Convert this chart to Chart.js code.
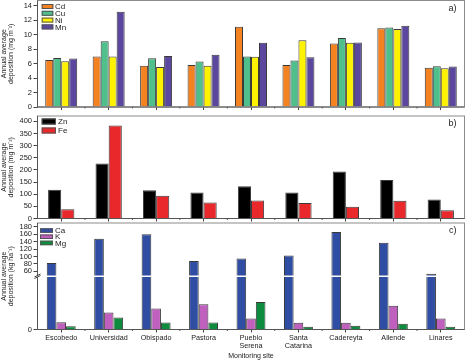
<!DOCTYPE html>
<html>
<head>
<meta charset="utf-8">
<script src="https://cdn.jsdelivr.net/npm/chart.js@4.4.0/dist/chart.umd.min.js"></script>
<style>
  html, body { margin: 0; padding: 0; background: #fff; }
  #wrap { position: relative; width: 466px; height: 361px; }
  #wrap canvas { position: absolute; left: 0; top: 0; }
</style>
</head>
<body>
<div id="wrap">
  <canvas id="chartA" width="466" height="361"></canvas>
  <canvas id="chartB" width="466" height="361"></canvas>
  <canvas id="chartC" width="466" height="361"></canvas>
</div>
<script>
// Monitoring sites (x axis)
const sites = ['Escobedo', 'Universidad', 'Obispado', 'Pastora', ['Pueblo', 'Serena'],
               ['Santa', 'Catarina'], 'Cadereyta', 'Allende', 'Linares'];

// Panel a) mg m-2
const cd = [6.5, 7.0, 5.7, 5.8, 11.1, 5.8, 8.8, 10.9, 5.45];
const cu = [6.8, 9.1, 6.75, 6.3, 7.0, 6.45, 9.55, 11.0, 5.65];
const ni = [6.35, 7.0, 5.55, 5.7, 6.95, 9.25, 8.9, 10.8, 5.35];
const mn = [6.7, 13.2, 7.05, 7.25, 8.9, 6.9, 8.95, 11.25, 5.6];

// Panel b) mg m-2
const zn = [118, 226, 116, 107, 133, 107, 193, 159, 78];
const fe = [38, 383, 94, 66, 74, 64, 48, 73, 34];

// Panel c) kg ha-1 (broken axis)
const ca = [82.5, 147.5, 160, 88, 95, 103, 165.5, 137, 54];
const k  = [2.8, 6.5, 8.0, 9.6, 4.2, 2.55, 2.55, 9.0, 4.2];
const mg = [1.25, 4.6, 2.7, 2.7, 10.5, 1.0, 1.4, 2.2, 1.0];

// tick labels
const ticksA = [0, 2, 4, 6, 8, 10, 12, 14];
const ticksB = [0, 50, 100, 150, 200, 250, 300, 350, 400];
const ticksC = [0, 60, 80, 100, 120, 140, 160, 180];

// broken axis ranges for panel c
const LOW_MAX = 20;
const HIGH_MIN = 49;
const HIGH_MAX = 190;

const FONT = "'Liberation Sans', Arial, sans-serif";
const TXT = '#222';

// map a value on the broken axis: lower half 0..LOW_MAX, upper half HIGH_MIN..HIGH_MAX
function brokenPixel(s, v) {
    const h = s.bottom - s.top;
    const lowFrac = 0.493, highFrac = 0.507;
    let f;
    if (v <= LOW_MAX) f = v / LOW_MAX * lowFrac;
    else if (v < HIGH_MIN) f = lowFrac + (highFrac - lowFrac) * (v - LOW_MAX) / (HIGH_MIN - LOW_MAX);
    else f = highFrac + (1 - highFrac) * (v - HIGH_MIN) / (HIGH_MAX - HIGH_MIN);
    return s.bottom - f * h;
}

function decoPlugin(cfg) {
    return {
        id: 'deco',
        afterDraw(chart) {
            const { ctx, chartArea: a } = chart;
            const xs = chart.scales.x, ys = chart.scales.y;
            ctx.save();

            // white gap through the bars at the axis break
            let gTop, gBot;
            if (cfg.broken) {
                gTop = ys.getPixelForValue(HIGH_MIN);
                gBot = ys.getPixelForValue(LOW_MAX);
                ctx.fillStyle = '#fff';
                ctx.fillRect(a.left + 1, gTop, a.right - a.left - 2, gBot - gTop);
            }

            // frame
            ctx.strokeStyle = '#8c8c8c';
            ctx.lineWidth = 1;
            ctx.strokeRect(a.left, a.top, a.right - a.left, a.bottom - a.top);
            ctx.strokeStyle = '#555';
            ctx.beginPath();
            ctx.moveTo(a.left, a.top);
            ctx.lineTo(a.left, a.bottom);
            ctx.lineTo(a.right, a.bottom);
            // minor ticks between sites
            for (let i = 1; i < chart.data.labels.length; i++) {
                const px = (xs.getPixelForValue(i - 1) + xs.getPixelForValue(i)) / 2;
                ctx.moveTo(px, a.bottom);
                ctx.lineTo(px, a.bottom + 1.5);
            }
            ctx.stroke();

            // break marks on the left axis
            if (cfg.broken) {
                ctx.fillStyle = '#fff';
                ctx.fillRect(a.left - 4, gTop, 8, gBot - gTop);
                ctx.strokeStyle = '#444';
                ctx.beginPath();
                ctx.moveTo(a.left - 3, gTop + 1.5); ctx.lineTo(a.left + 3, gTop - 1.5);
                ctx.moveTo(a.left - 3, gBot + 1.5); ctx.lineTo(a.left + 3, gBot - 1.5);
                ctx.stroke();
            }

            // legend
            const L = cfg.legend;
            ctx.font = '8px ' + FONT;
            ctx.textAlign = 'left';
            ctx.textBaseline = 'middle';
            chart.data.datasets.forEach((ds, i) => {
                const y = L.y0 + i * L.dy;
                ctx.fillStyle = ds.backgroundColor;
                ctx.fillRect(L.x, y, L.w, L.h);
                ctx.strokeStyle = '#555';
                ctx.strokeRect(L.x + 0.5, y + 0.5, L.w - 1, L.h - 1);
                ctx.fillStyle = TXT;
                ctx.fillText(ds.label, L.tx, y + L.h / 2 + 0.5);
            });

            // panel letter
            ctx.font = '9px ' + FONT;
            ctx.textAlign = 'right';
            ctx.fillText(cfg.letter, a.right - 8, a.top + 8);

            // y title
            ctx.font = '7px ' + FONT;
            ctx.textAlign = 'center';
            const yc = (a.top + a.bottom) / 2;
            cfg.title.forEach((t, i) => {
                ctx.save();
                ctx.translate(cfg.titleX[i], yc);
                ctx.rotate(-Math.PI / 2);
                ctx.fillText(t, 0, 0);
                ctx.restore();
            });

            // x title
            if (cfg.xTitle) {
                ctx.fillText(cfg.xTitle, (a.left + a.right) / 2, 356.5);
            }
            ctx.restore();
        }
    };
}

function bars(label, data, color, pct) {
    return {
        label, data,
        backgroundColor: color,
        borderColor: '#3a3a3a',
        borderWidth: 1,
        categoryPercentage: pct,
        barPercentage: 1
    };
}

function makeChart(id, datasets, p) {
    const yAxis = {
        type: 'linear',
        bounds: 'data',
        min: 0,
        max: p.max,
        grid: { drawOnChartArea: false, tickLength: 4, color: '#444', lineWidth: 1 },
        border: { display: false },
        ticks: { font: { family: FONT, size: 7.5 }, color: TXT, padding: 1.5 },
        afterBuildTicks: s => {
            s.ticks = p.ticks.map(v => ({ value: v }));
            if (p.broken) s.getPixelForValue = v => brokenPixel(s, v);
        },
        afterFit: s => { s.width = 37.5; s.paddingTop = 0; s.paddingBottom = 0; }
    };
    return new Chart(document.getElementById(id), {
        type: 'bar',
        data: { labels: sites, datasets },
        options: {
            responsive: false,
            animation: false,
            events: [],
            layout: { padding: { left: 0, right: 1.5, top: p.top, bottom: p.padBottom } },
            plugins: { legend: { display: false }, tooltip: { enabled: false } },
            scales: {
                x: {
                    type: 'category',
                    offset: true,
                    grid: { drawOnChartArea: false, offset: false, tickLength: 3, color: '#444', lineWidth: 1 },
                    border: { display: false },
                    ticks: {
                        display: p.showLabels,
                        autoSkip: false,
                        maxRotation: 0,
                        padding: 1,
                        font: { family: FONT, size: 7.2, lineHeight: 1.15 },
                        color: TXT
                    },
                    afterFit: s => { s.height = p.xh; s.paddingLeft = 0; s.paddingRight = 0; }
                },
                y: yAxis
            }
        },
        plugins: [decoPlugin(p.deco)]
    });
}

makeChart('chartA', [
    bars('Cd', cd, '#F58220', 0.674),
    bars('Cu', cu, '#4FBF8B', 0.674),
    bars('Ni', ni, '#FFF200', 0.674),
    bars('Mn', mn, '#5B479E', 0.674)
], {
    max: 14.75, ticks: ticksA, top: 0.5, padBottom: 248, xh: 6, showLabels: false,
    deco: {
        letter: 'a)',
        legend: { x: 41.7, y0: 4, dy: 6.8, w: 11.6, h: 5, tx: 55 },
        title: ['Annual average', 'deposition (mg m\u207B\u00B2)'], titleX: [4.5, 11.5]
    }
});

makeChart('chartB', [
    bars('Zn', zn, '#000000', 0.554),
    bars('Fe', fe, '#E8282B', 0.554)
], {
    max: 422, ticks: ticksB, top: 116, padBottom: 136.5, xh: 6, showLabels: false,
    deco: {
        letter: 'b)',
        legend: { x: 41.7, y0: 118.5, dy: 9, w: 14.3, h: 6, tx: 58 },
        title: ['Annual average', 'deposition (mg m\u207B\u00B2)'], titleX: [4.5, 11.5]
    }
});

makeChart('chartC', [
    bars('Ca', ca, '#2E4DA3', 0.61),
    bars('K', k, '#C060BE', 0.61),
    bars('Mg', mg, '#0E8C3E', 0.61)
], {
    max: HIGH_MAX, ticks: ticksC, top: 223, padBottom: 0, xh: 31.5, showLabels: true, broken: true,
    deco: {
        letter: 'c)', broken: true,
        legend: { x: 40, y0: 228.3, dy: 6.2, w: 13, h: 4.5, tx: 55 },
        title: ['Annual average', 'deposition (kg ha\u207B\u00B9)'], titleX: [4.5, 11.5],
        xTitle: 'Monitoring site'
    }
});
</script>
</body>
</html>
